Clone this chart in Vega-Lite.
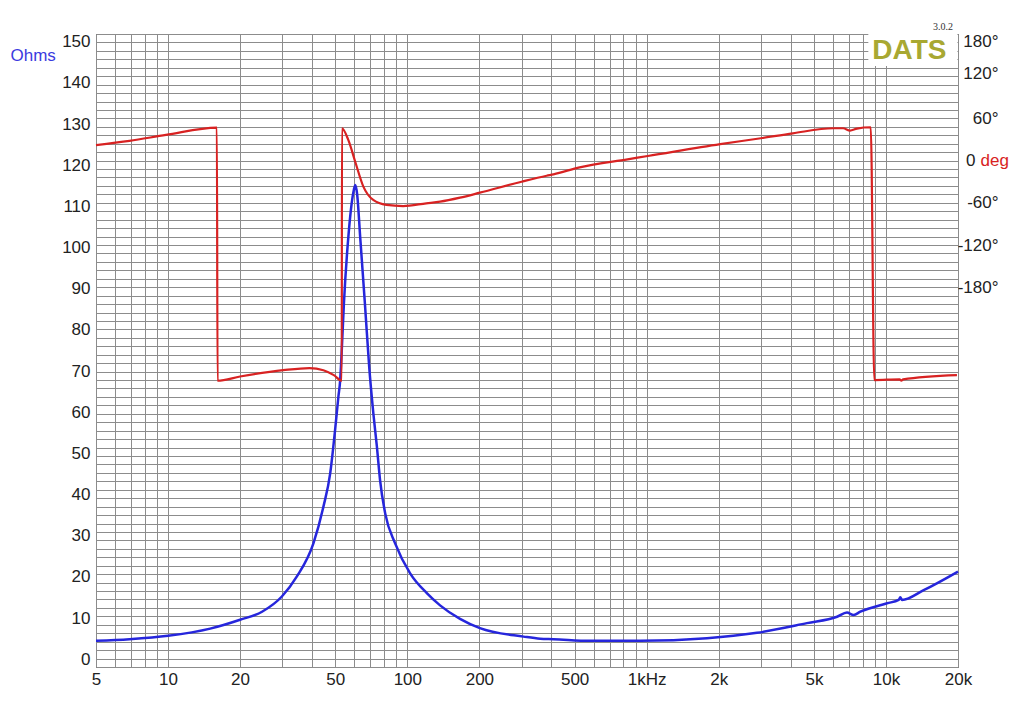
{
  "$schema": "https://vega.github.io/schema/vega-lite/v6.json",
  "width": 862,
  "height": 633,
  "autosize": {"type": "none"},
  "padding": {"left": 96, "top": 34, "right": 66, "bottom": 41},
  "background": "white",
  "config": {
    "view": {"stroke": "#3a3a3a", "strokeWidth": 1},
    "axis": {
      "labelFont": "Liberation Sans",
      "labelFontSize": 17,
      "labelColor": "#222222",
      "titleFont": "Liberation Sans",
      "domain": false,
      "ticks": false,
      "tickSize": 0,
      "gridColor": "#8c8c8c",
      "gridOpacity": 1,
      "gridWidth": 1
    }
  },
  "datasets": {
    "impedance": [
      {"f": 5, "z": 6.2},
      {"f": 6.9, "z": 6.6},
      {"f": 10, "z": 7.4},
      {"f": 15, "z": 9.1},
      {"f": 20, "z": 11.2},
      {"f": 24.7, "z": 13.1},
      {"f": 29.9, "z": 16.7},
      {"f": 34.5, "z": 21.4},
      {"f": 40.5, "z": 29.3},
      {"f": 44.6, "z": 38},
      {"f": 47.6, "z": 45.9},
      {"f": 49.9, "z": 56.2},
      {"f": 51.5, "z": 64},
      {"f": 52.4, "z": 68},
      {"f": 53.2, "z": 75},
      {"f": 54.3, "z": 86},
      {"f": 56.7, "z": 102},
      {"f": 59.5, "z": 112.5},
      {"f": 60.6, "z": 114.2},
      {"f": 61.7, "z": 112},
      {"f": 63.5, "z": 102},
      {"f": 66.5, "z": 86},
      {"f": 69.3, "z": 71},
      {"f": 72.1, "z": 60.1},
      {"f": 74.6, "z": 52.2},
      {"f": 76.9, "z": 44.3},
      {"f": 80.8, "z": 36.4},
      {"f": 88.9, "z": 29.3},
      {"f": 102.7, "z": 22.2},
      {"f": 120.6, "z": 17.5},
      {"f": 137, "z": 14.6},
      {"f": 166, "z": 11.4},
      {"f": 201, "z": 9.2},
      {"f": 306, "z": 7.2},
      {"f": 359, "z": 6.7},
      {"f": 408, "z": 6.6},
      {"f": 581, "z": 6.2},
      {"f": 940, "z": 6.2},
      {"f": 1786, "z": 6.8},
      {"f": 2890, "z": 8.1},
      {"f": 4676, "z": 10.4},
      {"f": 6247, "z": 11.9},
      {"f": 6872, "z": 12.9},
      {"f": 7327, "z": 12.3},
      {"f": 7816, "z": 13.1},
      {"f": 10106, "z": 15.1},
      {"f": 11297, "z": 15.9},
      {"f": 11480, "z": 16.5},
      {"f": 11670, "z": 15.9},
      {"f": 14375, "z": 18.2},
      {"f": 20000, "z": 22.6}
    ],
    "phase": [
      {"f": 5, "p": 22},
      {"f": 6.9, "p": 28},
      {"f": 9.8, "p": 36.5},
      {"f": 16.0, "p": 47},
      {"f": 16.1, "p": -313},
      {"f": 20, "p": -307},
      {"f": 30.3, "p": -298},
      {"f": 39, "p": -295},
      {"f": 44.6, "p": -298},
      {"f": 49.3, "p": -305},
      {"f": 53.2, "p": -313},
      {"f": 53.3, "p": 46},
      {"f": 56.7, "p": 29},
      {"f": 60.6, "p": -2},
      {"f": 65.5, "p": -37},
      {"f": 72, "p": -56},
      {"f": 81.8, "p": -63},
      {"f": 96, "p": -64.6},
      {"f": 120, "p": -60.7},
      {"f": 137, "p": -58.4},
      {"f": 166, "p": -52.7},
      {"f": 201, "p": -45.6},
      {"f": 300, "p": -30},
      {"f": 382, "p": -21.5},
      {"f": 408, "p": -19.5},
      {"f": 525, "p": -9.6},
      {"f": 832, "p": 1.8},
      {"f": 1011, "p": 6.5},
      {"f": 2030, "p": 23.5},
      {"f": 3000, "p": 31.8},
      {"f": 4080, "p": 38.8},
      {"f": 6020, "p": 46},
      {"f": 6620, "p": 46},
      {"f": 7080, "p": 42.6},
      {"f": 7560, "p": 45.5},
      {"f": 8640, "p": 47.4},
      {"f": 8940, "p": -312},
      {"f": 11400, "p": -311},
      {"f": 11600, "p": -313},
      {"f": 11800, "p": -311},
      {"f": 19800, "p": -305}
    ],
    "logo": [{"name": "DATS", "version": "3.0.2"}]
  },
  "resolve": {"scale": {"y": "independent"}},
  "layer": [
    {
      "data": {"name": "impedance"},
      "mark": {"type": "line", "color": "#2626dc", "strokeWidth": 2.5, "interpolate": "monotone"},
      "encoding": {
        "x": {
          "field": "f",
          "type": "quantitative",
          "scale": {"type": "log", "domain": [5, 20000], "nice": false},
          "axis": {
            "title": null,
            "values": [5, 6, 7, 8, 9, 10, 20, 30, 40, 50, 60, 70, 80, 90, 100, 200, 300, 400, 500, 600, 700, 800, 900, 1000, 2000, 3000, 4000, 5000, 6000, 7000, 8000, 9000, 10000, 20000],
            "labelExpr": "datum.value == 1000 ? '1kHz' : indexof([2000, 5000, 10000, 20000], datum.value) >= 0 ? (datum.value / 1000) + 'k' : indexof([5, 10, 20, 50, 100, 200, 500], datum.value) >= 0 ? '' + datum.value : ''",
            "labelFlush": false,
            "labelPadding": 4,
            "labelOverlap": false
          }
        },
        "y": {
          "field": "z",
          "type": "quantitative",
          "scale": {"domain": [0, 150], "nice": false},
          "axis": {
            "values": [0, 2, 4, 6, 8, 10, 12, 14, 16, 18, 20, 22, 24, 26, 28, 30, 32, 34, 36, 38, 40, 42, 44, 46, 48, 50, 52, 54, 56, 58, 60, 62, 64, 66, 68, 70, 72, 74, 76, 78, 80, 82, 84, 86, 88, 90, 92, 94, 96, 98, 100, 102, 104, 106, 108, 110, 112, 114, 116, 118, 120, 122, 124, 126, 128, 130, 132, 134, 136, 138, 140, 142, 144, 146, 148, 150],
            "labelExpr": "datum.value % 10 == 0 ? '' + datum.value : ''",
            "labelPadding": 6,
            "labelOffset": {"expr": "(datum.value - 75) * 0.103"},
            "labelOverlap": false,
            "title": "Ohms",
            "titleAngle": 0,
            "titleAlign": "left",
            "titleBaseline": "middle",
            "titleX": -86,
            "titleY": 21,
            "titleColor": "#3b3be0",
            "titleFontSize": 17,
            "titleFontWeight": "normal"
          }
        }
      }
    },
    {
      "data": {"name": "phase"},
      "mark": {"type": "line", "color": "#d82222", "strokeWidth": 2.2, "interpolate": "monotone"},
      "encoding": {
        "x": {"field": "f", "type": "quantitative"},
        "y": {
          "field": "p",
          "type": "quantitative",
          "scale": {"domain": [-720, 180], "nice": false},
          "axis": {
            "orient": "right",
            "grid": false,
            "values": [-180, -120, -60, 0, 60, 120, 180],
            "labelExpr": "datum.value == 0 ? '0' : datum.value + '°'",
            "labelAlign": "right",
            "labelPadding": {"condition": {"test": "datum.value == 0", "value": 17}, "value": 40},
            "labelOffset": {"expr": "datum.value == 180 ? 7 : datum.value == 120 ? -3 : 0"},
            "labelOverlap": false,
            "title": "deg",
            "titleAngle": 0,
            "titleAlign": "left",
            "titleBaseline": "middle",
            "titleX": 22,
            "titleY": 126,
            "titleColor": "#d82222",
            "titleFontSize": 17,
            "titleFontWeight": "normal"
          }
        }
      }
    },
    {
      "data": {"name": "logo"},
      "layer": [
        {
          "mark": {"type": "rect", "color": "white"},
          "encoding": {
            "x": {"datum": 8440, "type": "quantitative"},
            "x2": {"datum": 19890},
            "y": {"datum": 142.4, "type": "quantitative", "scale": {"domain": [0, 150], "nice": false}, "axis": null},
            "y2": {"datum": 150}
          }
        },
        {
          "mark": {"type": "text", "align": "right", "baseline": "middle", "font": "Liberation Sans", "fontWeight": "bold", "fontSize": 28, "color": "#a8a832"},
          "encoding": {
            "x": {"datum": 17900, "type": "quantitative"},
            "y": {"datum": 146, "type": "quantitative", "axis": null},
            "text": {"field": "name"}
          }
        },
        {
          "mark": {"type": "text", "align": "center", "baseline": "middle", "font": "Liberation Serif", "fontSize": 10, "color": "#333333"},
          "encoding": {
            "x": {"datum": 17300, "type": "quantitative"},
            "y": {"datum": 151.6, "type": "quantitative", "axis": null},
            "text": {"field": "version"}
          }
        }
      ]
    }
  ]
}
